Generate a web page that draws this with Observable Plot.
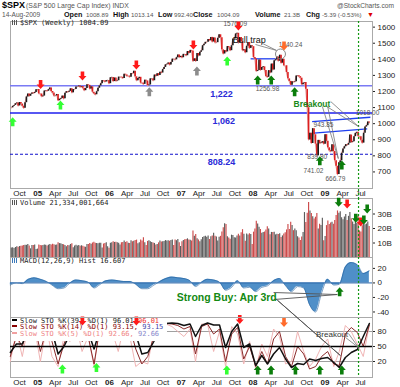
<!DOCTYPE html>
<html><head><meta charset="utf-8">
<script src="https://cdn.jsdelivr.net/npm/d3@7"></script>
<script src="https://cdn.jsdelivr.net/npm/@observablehq/plot@0.6"></script>
<style>
html,body{margin:0;padding:0;background:#fff}
body{width:400px;height:387px;position:relative;overflow:hidden;font-family:"Liberation Sans",Arial,sans-serif}
.abs{position:absolute;white-space:nowrap;line-height:1}
.panel{position:absolute;left:0;width:400px}
.panel svg{display:block;overflow:visible}
.lg{position:absolute;left:12px;font-family:"DejaVu Sans Mono",monospace;font-size:7px;line-height:7px;white-space:nowrap;color:#222}
.ic{display:inline-block;width:5px;height:5px;margin-right:3px;vertical-align:0;background:linear-gradient(90deg,#555 0 1px,transparent 1px 2px,#555 2px 3px,transparent 3px 4px,#555 4px 5px)}
.sw{display:inline-block;width:5px;height:2px;margin-right:3px;vertical-align:2px}
.b{font-weight:bold;font-size:7.2px;color:#111}
.v{font-size:6.2px;color:#555}
</style></head><body>

<span class="abs" style="left:2px;top:1px;font-weight:bold;font-size:9px">$SPX</span>
<span class="abs" style="left:26px;top:2.5px;font-size:6.9px;color:#555">(S&amp;P 500 Large Cap Index) INDX</span>
<span class="abs" style="left:337px;top:2.5px;font-size:6.6px;color:#555">@StockCharts.com</span>
<span class="abs v" style="left:2px;top:11.5px;font-size:6.6px">14-Aug-2009</span>
<span class="abs b" style="left:64px;top:11px">Open</span><span class="abs v" style="left:86px;top:11.5px">1008.89</span>
<span class="abs b" style="left:113px;top:11px">High</span><span class="abs v" style="left:131px;top:11.5px">1013.14</span>
<span class="abs b" style="left:158px;top:11px">Low</span><span class="abs v" style="left:174px;top:11.5px">992.40</span>
<span class="abs b" style="left:193px;top:11px">Close</span><span class="abs v" style="left:217px;top:11.5px">1004.09</span>
<span class="abs b" style="left:255px;top:11px">Volume</span><span class="abs v" style="left:284px;top:11.5px">21.3B</span>
<span class="abs b" style="left:306px;top:11px">Chg</span><span class="abs v" style="left:322px;top:11.5px">-5.39 (-0.53%)</span>
<span class="abs" style="left:367px;top:11px;font-size:7px;color:#d00">&#9660;</span>

<div id="price" class="panel" style="top:20px;z-index:2"></div>
<div id="vol" class="panel" style="top:198px;z-index:2"></div>
<div id="macd" class="panel" style="top:257px;z-index:6"></div>
<div id="sto" class="panel" style="top:317px;z-index:1"></div>
<div id="stoOver" class="panel" style="top:317px;z-index:4"></div>

<div class="lg" style="top:20px;z-index:7"><span class="ic"></span>$SPX (Weekly) 1004.09</div>
<div class="lg" style="top:200px;z-index:7"><span class="ic"></span>Volume 21,334,001,664</div>
<div class="lg" style="top:257.5px;z-index:7"><span class="ic" style="background:linear-gradient(90deg,#3a78b8 0 1px,transparent 1px 2px,#3a78b8 2px 3px,transparent 3px 4px,#3a78b8 4px 5px)"></span>MACD(12,26,9) Hist 16.607</div>
<div class="lg" style="top:317.5px;z-index:3;background:#fff;padding:0 4px 3px 0;line-height:6.8px">
<span class="sw" style="background:#000"></span>Slow STO %K(39) %D(1) 96.01 <span style="color:#e33">96.01</span><br>
<span class="sw" style="background:#800"></span><span style="color:#800">Slow STO %K(14) %D(1) 93.15,</span> <span style="color:#44a">93.15</span><br>
<span class="sw" style="background:#f0a0a0"></span><span style="color:#ef8585">Slow STO %K(5) %D(1) 92.66,</span> <span style="color:#88c">92.66</span>
</div>

<script>
// ---------------- DATA ----------------
const close2004 = [1098.6,1107.8, 1113.6,1123.9,1128.6,1110.1, 1131.5,1122.1,1108.2,1095.7,1130.2, 1166.2,1184.2,1170.3,1182.7, 1191.2,1188.0,1194.2,1210.1,1211.9];
const close2005 = [1186.2,1184.5,1167.9,1171.4, 1203.0,1205.3,1201.6,1211.4, 1222.1,1200.1,1190.2,1171.4, 1172.9,1181.2,1142.6,1152.1,1156.9, 1171.4,1154.1,1189.3,1198.8, 1196.0,1200.9,1216.9,1191.6, 1211.9,1211.9,1227.9,1229.3,1234.2, 1226.4,1230.4,1219.7,1205.1, 1218.0,1241.5,1237.9,1215.3,1228.8, 1195.9,1186.6,1179.6,1198.4, 1220.1,1234.7,1248.3,1268.3, 1265.1,1259.4,1267.3,1268.7,1248.3];
const close2006 = [1285.5,1287.6,1261.5,1283.7, 1264.0,1266.9,1289.4,1289.4, 1287.2,1281.4,1307.3,1302.9,1294.8, 1295.5,1289.1,1311.3,1310.6, 1325.8,1291.2,1267.0,1280.2, 1288.2,1252.3,1251.5,1244.5,1270.2, 1265.5,1236.2,1240.3,1278.6, 1279.4,1266.7,1302.3,1295.1, 1311.0,1298.9,1319.9,1314.8,1335.9, 1349.6,1365.6,1368.6,1377.3, 1364.3,1380.9,1401.2,1400.9, 1396.7,1409.8,1427.1,1410.8,1418.3];
const close2007 = [1409.7,1430.7,1430.5,1422.2, 1448.4,1438.1,1455.5,1451.2, 1387.2,1402.8,1386.9,1436.1,1420.9, 1443.8,1452.9,1484.4,1494.1, 1505.6,1505.9,1522.8,1515.7, 1536.3,1507.7,1532.9,1502.6,1503.4, 1530.4,1552.5,1534.1,1458.9, 1433.1,1453.6,1445.9,1479.4,1473.9, 1453.6,1484.3,1525.8,1526.8, 1557.6,1561.8,1500.6,1535.3, 1509.7,1453.7,1458.7,1440.7,1481.1, 1504.7,1467.9,1484.5,1478.5];
const close2008 = [1411.6,1401.0,1325.2,1330.6, 1395.4,1331.3,1349.0,1353.1,1330.6, 1293.4,1288.1,1329.5,1315.2, 1370.4,1332.8,1390.3,1397.8, 1413.9,1388.3,1425.4,1375.9,1400.4, 1360.7,1360.0,1317.9,1278.4, 1262.9,1239.5,1260.7,1257.8, 1260.3,1296.3,1298.2,1292.2,1282.8, 1242.3,1251.7,1255.1,1213.3, 1099.2,899.2,940.6,876.8,968.8, 930.99,873.3,800.0,896.2, 876.1,879.7,887.9,872.8];
const close2009 = [931.8,890.4,850.1,831.95,825.9, 868.6,826.8,770.1,735.1, 683.4,756.6,768.5,815.9, 842.5,856.6,869.6,866.2, 877.5,929.2,882.9,887.0,919.1, 940.1,946.2,921.2,918.9, 896.4,879.1,940.4,979.3,987.5, 1010.5,1004.1];

// weekly volume, billions
const vol2004 = [6.5,6.8, 6.2,6.9,7.4,7.0, 7.6,7.8,7.9,8.3,8.5, 8.4,8.9,8.0,6.0, 8.2,8.3,8.6,5.5,5.8];
const vol2005 = [8.6,8.2,8.1,8.3, 8.7,8.4,7.9,8.5, 9.0,8.7,9.2,8.8, 8.5,8.6,10.2,9.6,9.4, 8.9,8.8,8.3,7.4, 8.2,8.1,9.0,9.5, 6.8,7.9,8.4,7.9,8.2, 7.8,8.1,7.7,7.3, 7.0,9.0,8.9,9.6,9.1, 10.0,10.5,9.9,9.7, 9.4,9.8,9.9,6.6, 9.3,9.7,10.1,7.4,6.4];
const vol2006 = [9.9,10.1,10.8,10.4, 10.6,10.2,9.8,8.6, 10.1,10.3,11.4,10.4,10.8, 9.8,9.7,11.6,10.9, 11.2,11.8,12.0,9.4, 10.1,12.0,11.4,13.6,10.2, 8.3,11.1,11.5,10.8, 10.3,10.0,9.7,8.6, 9.0,10.1,11.3,10.7,10.9, 11.0,11.7,11.4,11.6, 11.2,11.8,12.1,8.3, 12.0,11.6,12.4,10.1,7.6];
const vol2007 = [10.9,11.8,12.3,12.4, 12.9,12.0,11.9,11.3, 18.2,14.6,15.9,13.0,12.1, 10.8,12.2,13.8,14.3, 14.6,14.0,14.9,12.4, 14.4,14.8,16.8,14.7,14.1, 11.4,13.9,14.6,17.6, 20.6,23.2,22.7,14.3,13.4, 12.6,15.4,15.1,13.7, 13.5,14.8,16.1,14.9, 17.1,19.2,16.0,11.2,16.2, 15.6,16.4,15.8,9.0];
const vol2008 = [17.5,19.6,25.0,23.1, 20.8,19.4,16.8,17.2,17.6, 18.9,21.2,19.7,15.7, 17.3,17.2,17.4,15.6, 16.0,15.8,16.4,13.8,14.9, 16.2,17.1,19.0,22.8, 19.4,24.3,22.0,18.5, 19.6,18.4,14.3,13.5,11.8, 14.1,17.2,31.0,24.2, 30.5,38.0,32.1,30.4,28.1, 26.5,27.8,30.3,19.7, 22.9,22.0,27.0,11.5];
const vol2009 = [14.5,22.0,25.1,22.8,23.8, 24.4,23.0,25.6,29.0, 32.1,30.6,31.5,27.4, 26.0,27.9,29.7,25.6, 28.4,31.0,26.8,24.5,22.7, 25.0,23.7,28.5,18.3, 17.6,21.9,23.0,22.6,23.1, 24.5,21.3];

// monthly readings (mid-month) Aug 2004 .. Aug 2009
const macd2004 = [-3,0,-1,5,7];
const macd2005 = [5,2,-3,-8,-7,0,4,3,1,-7,-2,3];
const macd2006 = [4,3,2,2,-2,-8,-8,-3,2,6,8,7];
const macd2007 = [6,3,-5,1,5,4,1,-10,-6,3,-7,-6];
const macd2008 = [-12,-6,-4,3,6,-4,-12,-5,-7,-30,-40,-14];
const macd2009 = [5,-3,-2,22,28,25,13,16.607];

const k39_2004 = [38,55,55,85,95];
const k39_2005 = [78,88,82,35,50,75,92,86,80,45,85,93];
const k39_2006 = [92,86,92,94,75,35,38,60,85,96,97,96];
const k39_2007 = [92,95,70,92,97,93,93,48,80,95,48,55];
const k39_2008 = [12,32,15,35,48,25,8,16,14,25,22,26];
const k39_2009 = [28,18,8,28,38,44,70,96.01];

const k14_2004 = [30,70,50,90,95];
const k14_2005 = [40,85,60,15,55,85,92,60,70,15,90,85];
const k14_2006 = [85,70,90,88,45,15,30,70,90,96,95,92];
const k14_2007 = [85,90,35,90,95,75,85,20,75,88,25,50];
const k14_2008 = [10,40,15,65,80,30,10,50,35,5,10,30];
const k14_2009 = [40,15,12,75,88,78,50,93.15];

const k5_2004 = [20,80,30,95,90];
const k5_2005 = [20,90,30,10,70,60,95,40,70,10,95,70];
const k5_2006 = [80,40,90,70,10,20,15,80,85,95,90,80];
const k5_2007 = [70,85,20,95,95,40,80,10,90,75,15,60];
const k5_2008 = [5,55,30,85,70,15,20,80,40,10,25,50];
const k5_2009 = [65,10,40,92,80,55,30,92.66];

const priceTicks = [700,800,900,1000,1100,1200,1300,1400,1500,1600];
const volTicks = [10,20,30];
const macdTicks = [20,0,-20,-40];
const stoTicks = [80,50,20];

// horizontal levels in price panel
const levelValues = [1235, 1066, 810];
const levelLabels = ["1,222", "1,062", "808.24"];
const levelLabelDates = ["2007-07-25", "2007-08-05", "2007-07-25"];

// trendlines
const trendX1 = ["2007-12-20","2008-10-28","2008-11-05"];
const trendY1 = [1403, 1013, 941];
const trendX2 = ["2008-05-10","2009-08-20","2009-08-04"];
const trendY2 = [1403, 1040, 968];

// price value labels
const valueLabelText = ["1576.09","1440.24","1256.98","943.85","839.80","741.02","666.79","1018.00"];
const valueLabelDates = ["2007-10-03","2008-07-10","2008-03-15","2008-12-25","2008-11-23","2008-11-04","2009-02-23","2009-08-06"];
const valueLabelValues = [1617, 1492, 1217, 993, 796, 709, 657, 1065];

// callouts (price panel)
const calloutX1 = ["2008-01-14","2008-02-18","2009-01-10","2009-01-30","2008-12-19","2009-01-15"];
const calloutY1 = [1492, 1499, 1107, 1138, 1107, 1107];
const calloutX2 = ["2008-04-30","2008-04-30","2009-06-21","2009-06-21","2009-03-10","2009-03-10"];
const calloutY2 = [1455, 1455, 982, 982, 783, 783];
const bullTrapText = "Bull trap", bullTrapDate = "2007-12-13", bullTrapValue = 1517;
const circleDate = "2008-05-20", circleValue = 1433;
const breakoutText = "Breakout", breakoutDate = "2008-10-27", breakoutValue = 1123;

// arrows
const priceArrowDates = ["2004-08-27","2005-01-16","2005-04-27","2005-08-17","2006-05-18","2006-07-23","2007-03-04","2007-03-22","2007-08-23","2007-10-19","2008-06-07","2008-01-25","2008-04-03","2008-07-31","2008-12-06","2009-03-28"];
const priceArrowValues = [1040,1215,1144,1268,1337,1227,1461,1356,1418,1579,1455,1300,1300,1227,798,771];
const priceArrowKinds = ["lime","red","lime","red","red","gray","red","gray","lime","red","orange","dkgreen","dkgreen","dkgreen","dkgreen","dkgreen"];
const priceArrowDirs = ["up","down","up","down","down","up","down","up","up","down","down","up","up","up","up","up"];

const volArrowDates = ["2009-03-12","2009-04-24","2009-06-07","2009-07-02","2009-07-18","2009-08-04"];
const volArrowValues = [35, 33.8, 24, 21.4, 22.8, 30.3];
const volArrowKinds = ["dkgreen","red","dkgreen","red","dkgreen","dkgreen"];
const volArrowDirs = ["down","down","down","down","down","down"];

const macdArrowDates = ["2009-03-17"];
const macdArrowValues = [-5.8];
const macdArrowKinds = ["dkgreen"];
const macdArrowDirs = ["up"];
const strongBuyText = "Strong Buy: Apr 3rd", strongBuyDate = "2007-08-21", strongBuyValue = -20;
const sbX1 = ["2008-04-15","2008-04-15","2008-04-25","2008-05-06"];
const sbY1 = [-13.2, -22.9, -21.5, -24.3];
const sbX2 = ["2009-03-05","2009-03-05","2009-03-21","2009-03-21"];
const sbY2 = [-16, -16, -100, -100];

const stoArrowDates = ["2005-08-17","2006-05-18","2005-05-07","2005-10-27","2007-10-26","2008-06-07","2007-08-21","2008-01-25","2008-04-02","2008-08-04","2008-12-06","2009-03-28"];
const stoArrowValues = [92,92,14,17,95,89,12,12,12,12,12,12];
const stoArrowKinds = ["red","red","lime","lime","red","orange","lime","dkgreen","dkgreen","dkgreen","dkgreen","dkgreen"];
const stoArrowDirs = ["down","down","up","up","down","down","up","up","up","up","up","up"];
const stoBreakText = "Breakout", stoBreakDate = "2009-02-06", stoBreakValue = 75;
const stoBX1 = ["2009-04-16","2009-05-01"];
const stoBY1 = [68, 76];
const stoBX2 = ["2009-06-21","2009-06-21"];
const stoBY2 = [48, 48];

const signalDateStr = "2009-06-21";

// ---------------- BUILD ----------------
const parse = s => new Date(s + "T00:00:00Z");
const xDomain = [parse("2004-08-16"), parse("2009-08-31")];
const xTicks = d3.utcMonth.every(3).range(xDomain[0], xDomain[1]);
const xFmt = d => d.getUTCMonth() === 0 ? d3.utcFormat("%y")(d) : d3.utcFormat("%b")(d);
const signalDate = parse(signalDateStr);

const closes = [...close2004, ...close2005, ...close2006, ...close2007, ...close2008, ...close2009];
const volumes = [...vol2004, ...vol2005, ...vol2006, ...vol2007, ...vol2008, ...vol2009];
const weekDates = d3.utcFriday.range(parse("2004-08-20"), parse("2009-08-15"));
const n = Math.min(closes.length, volumes.length, weekDates.length);
const weeks = d3.range(n).map(i => ({date: weekDates[i], close: closes[i], prev: i ? closes[i-1] : closes[i], vol: volumes[i]}));

const months = d3.utcMonth.range(parse("2004-08-01"), parse("2009-09-01")).map(d => d3.utcDay.offset(d, 14));
const macdVals = [...macd2004, ...macd2005, ...macd2006, ...macd2007, ...macd2008, ...macd2009];
const k39 = [...k39_2004, ...k39_2005, ...k39_2006, ...k39_2007, ...k39_2008, ...k39_2009];
const k14 = [...k14_2004, ...k14_2005, ...k14_2006, ...k14_2007, ...k14_2008, ...k14_2009];
const k5 = [...k5_2004, ...k5_2005, ...k5_2006, ...k5_2007, ...k5_2008, ...k5_2009];
const monthly = months.map((d, i) => ({date: d, macd: macdVals[i], k39: k39[i], k14: k14[i], k5: k5[i]}));

const palette = {red: "#ff1a1a", lime: "#33ff33", gray: "#8c8c8c", dkgreen: "#0b7d0b", orange: "#ff6b2b"};
const upColor = "#1a1a1a", downColor = "#dd1f1f";

const upSym = {draw(c, s) { const k = Math.sqrt(s / Math.PI) / 4;
  c.moveTo(0, 0); c.lineTo(4*k, 4.5*k); c.lineTo(1.8*k, 4.5*k); c.lineTo(1.8*k, 9*k);
  c.lineTo(-1.8*k, 9*k); c.lineTo(-1.8*k, 4.5*k); c.lineTo(-4*k, 4.5*k); c.closePath(); }};
const downSym = {draw(c, s) { const k = Math.sqrt(s / Math.PI) / 4;
  c.moveTo(0, 0); c.lineTo(4*k, -4.5*k); c.lineTo(1.8*k, -4.5*k); c.lineTo(1.8*k, -9*k);
  c.lineTo(-1.8*k, -9*k); c.lineTo(-1.8*k, -4.5*k); c.lineTo(-4*k, -4.5*k); c.closePath(); }};

function arrowMarks(dates, values, kinds, dirs) {
  const rows = dates.map((d, i) => ({date: parse(d), v: values[i], color: palette[kinds[i]], dir: dirs[i]}));
  return ["up", "down"].map(dir => Plot.dot(rows.filter(r => r.dir === dir),
    {x: "date", y: "v", r: 4, symbol: dir === "up" ? upSym : downSym, fill: "color", stroke: "none"}));
}
function links(x1, y1, x2, y2, opts) {
  const rows = x1.map((d, i) => ({x1: parse(d), y1: y1[i], x2: parse(x2[i]), y2: y2[i]}));
  return Plot.link(rows, {x1: "x1", y1: "y1", x2: "x2", y2: "y2", ...opts});
}
const levelRows = levelValues.map((v, i) => ({date: parse(levelLabelDates[i]), v, label: levelLabels[i]}));

const common = {
  width: 400, marginLeft: 10, marginRight: 28,
  style: {fontFamily: '"Liberation Sans", Arial, sans-serif', fontSize: "8px", background: "transparent", overflow: "visible", color: "#222"},
  color: {type: "identity"}
};
const xAxisOpts = {type: "utc", domain: xDomain, ticks: xTicks, tickFormat: xFmt, tickSize: 0, tickPadding: 2, label: null};
const xNoAxis = {type: "utc", domain: xDomain, axis: null};
const plain = d => String(d);

// PRICE
const pricePlot = Plot.plot({
  ...common, height: 178, marginTop: 1, marginBottom: 10,
  x: xAxisOpts,
  y: {domain: [597, 1635], ticks: priceTicks, tickFormat: plain, axis: "right", tickSize: 2, tickPadding: 3, label: null},
  marks: [
    Plot.frame({stroke: "#aaa"}),
    Plot.ruleY([levelValues[0]], {stroke: "#7a7af4", strokeWidth: 1.5}),
    Plot.ruleY([levelValues[1]], {stroke: "#1f1fee", strokeWidth: 1.4}),
    Plot.ruleY([levelValues[2]], {stroke: "#1010cc", strokeWidth: 1.1, strokeDasharray: "3,2"}),
    Plot.text(levelRows, {x: "date", y: "v", text: "label", dy: 8, fill: "#2a2ad8", fontWeight: "bold", fontSize: 9}),
    links(trendX1, trendY1, trendX2, trendY2, {stroke: "#1f3ff0", strokeWidth: 1.3}),
    Plot.line(weeks, {x: "date", y: "close", stroke: "#e39a9a", strokeWidth: 1.2}),
    Plot.ruleX(weeks, {x: "date", y1: "prev", y2: "close", stroke: d => d.close >= d.prev ? upColor : downColor, strokeWidth: 1.6}),
    Plot.ruleX([signalDate], {stroke: "#119911", strokeWidth: 1.2, strokeDasharray: "2,2", insetBottom: -10}),
    links(calloutX1, calloutY1, calloutX2, calloutY2, {stroke: "#777", strokeWidth: 0.8}),
    Plot.dot([circleValue], {x: () => parse(circleDate), y: d => d, r: 5, stroke: "#888", fill: "none", strokeWidth: 1}),
    Plot.text(valueLabelText, {x: (d, i) => parse(valueLabelDates[i]), y: (d, i) => valueLabelValues[i], text: d => d, fontSize: 6.5, fill: "#555", ariaLabel: "vlabel"}),
    Plot.text([bullTrapText], {x: () => parse(bullTrapDate), y: () => bullTrapValue, text: d => d, fontSize: 9, fill: "#111", ariaLabel: "callout"}),
    Plot.text([breakoutText], {x: () => parse(breakoutDate), y: () => breakoutValue, text: d => d, fontSize: 8.5, fontWeight: "bold", fill: "#1a8a1a", ariaLabel: "callout"}),
    ...arrowMarks(priceArrowDates, priceArrowValues, priceArrowKinds, priceArrowDirs)
  ]
});

// VOLUME
const volPlot = Plot.plot({
  ...common, height: 59, marginTop: 0, marginBottom: 0,
  x: xNoAxis,
  y: {domain: [0, 40.7], ticks: volTicks, tickFormat: d => d + "B", axis: "right", tickSize: 2, tickPadding: 3, label: null},
  marks: [
    Plot.frame({stroke: "#aaa"}),
    Plot.ruleX(weeks, {x: "date", y1: 0, y2: "vol", stroke: d => d.close >= d.prev ? "#5c5c5c" : "#cc4b4b", strokeWidth: 1.15}),
    Plot.ruleX([signalDate], {stroke: "#119911", strokeWidth: 1.2, strokeDasharray: "2,2"}),
    ...arrowMarks(volArrowDates, volArrowValues, volArrowKinds, volArrowDirs)
  ]
});

// MACD
const macdPlot = Plot.plot({
  ...common, height: 60, marginTop: 0, marginBottom: 0,
  x: xNoAxis,
  y: {domain: [-47.6, 35], ticks: macdTicks, tickFormat: plain, axis: "right", tickSize: 2, tickPadding: 3, label: null},
  marks: [
    Plot.frame({stroke: "#aaa"}),
    Plot.areaY(monthly, {x: "date", y: "macd", fill: "#4f8fc8", curve: "monotone-x"}),
    Plot.lineY(monthly, {x: "date", y: "macd", stroke: "#24609c", strokeWidth: 0.6, curve: "monotone-x"}),
    Plot.ruleY([0], {stroke: "#2a66a8", strokeWidth: 1}),
    Plot.ruleX([signalDate], {stroke: "#119911", strokeWidth: 1.2, strokeDasharray: "2,2"}),
    links(sbX1, sbY1, sbX2, sbY2, {stroke: "#555", strokeWidth: 0.9}),
    Plot.text([strongBuyText], {x: () => parse(strongBuyDate), y: () => strongBuyValue, text: d => d, fontSize: 10.5, fontWeight: "bold", fill: "#138a13", ariaLabel: "strongbuy"}),
    ...arrowMarks(macdArrowDates, macdArrowValues, macdArrowKinds, macdArrowDirs)
  ]
});

// STO
const stoPlot = Plot.plot({
  ...common, height: 70, marginTop: 0, marginBottom: 10,
  x: xAxisOpts,
  y: {domain: [-12, 108], ticks: stoTicks, tickFormat: plain, axis: "right", tickSize: 2, tickPadding: 3, label: null},
  marks: [
    Plot.frame({stroke: "#aaa"}),
    Plot.ruleY([80, 20], {stroke: "#a0a0a0", strokeWidth: 1}),
    Plot.lineY(monthly, {x: "date", y: "k5", stroke: "#f0b4b4", strokeWidth: 1}),
    Plot.lineY(monthly, {x: "date", y: "k14", stroke: "#8a2a2a", strokeWidth: 1}),
    Plot.ruleY([50], {stroke: "#000", strokeWidth: 1.5}),
    Plot.lineY(monthly, {x: "date", y: "k39", stroke: "#111", strokeWidth: 1.5}),
    Plot.ruleX([signalDate], {stroke: "#119911", strokeWidth: 1.2, strokeDasharray: "2,2"}),
    links(stoBX1, stoBY1, stoBX2, stoBY2, {stroke: "#777", strokeWidth: 0.8}),
    Plot.text([stoBreakText], {x: () => parse(stoBreakDate), y: () => stoBreakValue, text: d => d, fontSize: 8, fill: "#333", ariaLabel: "callout"})
  ]
});
const stoOver = Plot.plot({
  ...common, height: 70, marginTop: 0, marginBottom: 10,
  x: xNoAxis,
  y: {domain: [-12, 108], axis: null},
  marks: arrowMarks(stoArrowDates, stoArrowValues, stoArrowKinds, stoArrowDirs)
});

document.getElementById("price").append(pricePlot);
document.getElementById("vol").append(volPlot);
document.getElementById("macd").append(macdPlot);
document.getElementById("sto").append(stoPlot);
document.getElementById("stoOver").append(stoOver);

// boxes behind annotation texts
const NS = "http://www.w3.org/2000/svg";
function boxify(svg, label, {px = 2, py = 1, fill = "#fff", stroke = "#999", rx = 2, sw = 0.8, shadow = null}) {
  svg.querySelectorAll(`g[aria-label="${label}"] text`).forEach(t => {
    const b = t.getBBox();
    const mk = (dx, f, s) => {
      const r = document.createElementNS(NS, "rect");
      r.setAttribute("x", b.x - px + dx); r.setAttribute("y", b.y - py + dx);
      r.setAttribute("width", b.width + 2 * px); r.setAttribute("height", b.height + 2 * py);
      r.setAttribute("rx", rx); r.setAttribute("fill", f); r.setAttribute("stroke", s); r.setAttribute("stroke-width", sw);
      const tr = t.getAttribute("transform"); if (tr) r.setAttribute("transform", tr);
      t.parentNode.insertBefore(r, t);
    };
    if (shadow) mk(1.5, shadow, "none");
    mk(0, fill, stroke);
  });
}
boxify(pricePlot, "vlabel", {px: 1.5, py: 0, stroke: "#bbb", rx: 1, sw: 0.6});
boxify(pricePlot, "callout", {px: 3, py: 1, stroke: "#888", rx: 3, shadow: "#ccc"});
boxify(stoPlot, "callout", {px: 2.5, py: 0.5, stroke: "#888", rx: 3, shadow: "#ccc"});
boxify(macdPlot, "strongbuy", {px: 3, py: 1, stroke: "#333", rx: 1, sw: 1, shadow: "#999"});

// bold year labels
[pricePlot, stoPlot].forEach(svg => svg.querySelectorAll("text").forEach(t => {
  if (/^0\d$/.test(t.textContent)) t.setAttribute("font-weight", "bold");
}));
</script>
</body></html>
